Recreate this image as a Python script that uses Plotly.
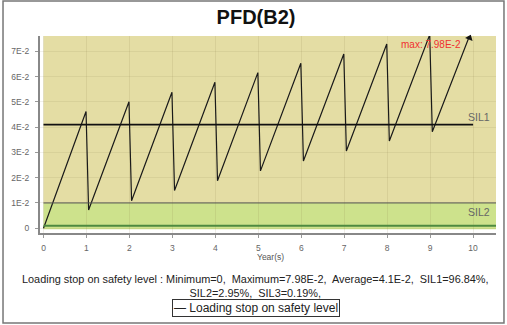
import plotly.graph_objects as go

# ---- data ----
years = [0, 0.99, 1.05, 1.99, 2.05, 2.99, 3.05, 3.99, 4.05, 4.99, 5.05,
         5.99, 6.05, 6.99, 7.05, 7.99, 8.05, 8.99, 9.05, 10.0]
pfd = [0.0, 0.0462, 0.0072, 0.0501, 0.0109, 0.0538, 0.0149, 0.0578, 0.0188,
       0.0616, 0.0227, 0.0653, 0.0266, 0.0690, 0.0306, 0.0729, 0.0345,
       0.0766, 0.0382, 0.0798]
average = 0.041
sil_bounds = [0.001, 0.01, 0.1]          # SIL3 / SIL2 / SIL1 upper limits
sil_labels = ["SIL1", "SIL2"]
x_ticks = list(range(0, 11))
y_ticks = [0, 0.01, 0.02, 0.03, 0.04, 0.05, 0.06, 0.07]
y_tick_text = ["0", "1E-2", "2E-2", "3E-2", "4E-2", "5E-2", "6E-2", "7E-2"]
title_text = "PFD(B2)"
series_name = "Loading stop on safety level"
stats_line1 = "Loading stop on safety level : Minimum=0,  Maximum=7.98E-2,  Average=4.1E-2,  SIL1=96.84%,"
stats_line2 = "SIL2=2.95%,  SIL3=0.19%,"
max_label = "max: 7.98E-2"

# ---- styling ----
KHAKI = "#E4DDA4"
GREEN = "#CDE28C"
DKGREEN = "#4E8A40"
FONT = "Liberation Sans, Arial, sans-serif"
X_RANGE = [-0.0815, 10.533]
Y_RANGE = [-0.0019, 0.0761]
BAND_BOTTOM = -0.00044

fig = go.Figure()

fig.add_trace(go.Scatter(x=years, y=pfd, mode="lines", name=series_name,
                         line=dict(color="#1a1a1a", width=1.2), showlegend=False))

# average line
fig.add_trace(go.Scatter(x=[min(years), round(max(years))], y=[average, average],
                         mode="lines", line=dict(color="#111", width=1.6),
                         showlegend=False, hoverinfo="skip"))

# arrow where the last segment leaves the top of the plot
x0, y0, x1, y1 = years[-2], pfd[-2], years[-1], pfd[-1]
if y1 > Y_RANGE[1]:
    t = (Y_RANGE[1] - y0) / (y1 - y0)
    ax_ = x0 + t * (x1 - x0)
    fig.add_trace(go.Scatter(x=[ax_], y=[Y_RANGE[1] * 0.99], mode="markers",
                             marker=dict(symbol="triangle-up", size=7, angle=22,
                                         color="#111"),
                             showlegend=False, hoverinfo="skip", cliponaxis=False))

band_x0 = min(years)
shapes = [
    # SIL bands
    dict(type="rect", xref="x", yref="y", x0=band_x0, x1=X_RANGE[1], y0=sil_bounds[1],
         y1=sil_bounds[2], fillcolor=KHAKI, line=dict(width=0), layer="below"),
    dict(type="rect", xref="x", yref="y", x0=band_x0, x1=X_RANGE[1], y0=sil_bounds[0],
         y1=sil_bounds[1], fillcolor=GREEN, line=dict(width=0), layer="below"),
    dict(type="rect", xref="x", yref="y", x0=band_x0, x1=X_RANGE[1], y0=BAND_BOTTOM,
         y1=sil_bounds[0], fillcolor=GREEN, line=dict(width=0), layer="below"),
    # boundaries
    dict(type="line", xref="x", yref="y", x0=band_x0, x1=X_RANGE[1], y0=sil_bounds[1],
         y1=sil_bounds[1], line=dict(color="#555", width=1)),
    dict(type="line", xref="x", yref="y", x0=band_x0, x1=X_RANGE[1], y0=sil_bounds[0],
         y1=sil_bounds[0], line=dict(color=DKGREEN, width=2)),
    # outer frame
    dict(type="rect", xref="paper", yref="paper", x0=-0.0811, x1=1.0175, y0=1.1777, y1=-0.4569,
         line=dict(color="#777", width=1.5), fillcolor="rgba(0,0,0,0)"),
]

annotations = [
    dict(text=max_label, xref="x", yref="paper", x=years[-1], y=1, xanchor="right",
         yanchor="top", xshift=-10, yshift=-1, showarrow=False,
         font=dict(family=FONT, size=10, color="#f03030")),
    dict(text=sil_labels[0], xref="paper", yref="y", x=1, y=average, xanchor="right",
         yanchor="bottom", xshift=-4, yshift=0, showarrow=False,
         font=dict(family=FONT, size=10.5, color="#666")),
    dict(text=sil_labels[1], xref="paper", yref="y", x=1, y=sil_bounds[1], xanchor="right",
         yanchor="top", xshift=-4, yshift=-1, showarrow=False,
         font=dict(family=FONT, size=10.5, color="#666")),
    dict(text="Year(s)", xref="paper", yref="paper", x=0.5044, y=-0.1218, xanchor="center",
         yanchor="middle", showarrow=False, font=dict(family=FONT, size=8.5, color="#555")),
    dict(text=stats_line1 + "<br>" + stats_line2, xref="paper", yref="paper", x=0.4715,
         y=-0.269, xanchor="center", yanchor="middle", align="center", showarrow=False,
         font=dict(family=FONT, size=10.9, color="#222")),
    dict(text="\u2014 " + series_name, xref="paper", yref="paper", x=0.4726, y=-0.3782,
         xanchor="center", yanchor="middle", showarrow=False, bordercolor="#333",
         borderwidth=1, borderpad=1, bgcolor="white",
         font=dict(family=FONT, size=12, color="#222")),
]

fig.update_layout(
    width=507, height=325,
    margin=dict(l=40, r=11, t=36, b=92),
    paper_bgcolor="white", plot_bgcolor="white",
    hovermode=False,
    title=dict(text="<b>" + title_text + "</b>", x=0.505, xanchor="center",
               y=0.948, yanchor="middle", font=dict(family=FONT, size=20, color="#111")),
    shapes=shapes, annotations=annotations, showlegend=False,
    xaxis=dict(range=X_RANGE, tickvals=x_ticks, ticks="outside", ticklen=3,
               tickcolor="#999", showgrid=True, gridcolor="rgba(120,110,60,0.12)",
               zeroline=False, showline=True, linecolor="#888", linewidth=2,
               ticklabelstandoff=3, tickfont=dict(family=FONT, size=8.5, color="#666")),
    yaxis=dict(range=Y_RANGE, tickvals=y_ticks, ticktext=y_tick_text, ticks="outside",
               ticklen=3, tickcolor="#999", showgrid=True,
               gridcolor="rgba(120,110,60,0.10)", zeroline=False, showline=True,
               linecolor="#888", linewidth=2,
               ticklabelstandoff=4, tickfont=dict(family=FONT, size=8.5, color="#666")),
)

fig.write_html("out.html", config={"displayModeBar": False},
               post_script="document.body.style.margin='0px';")
